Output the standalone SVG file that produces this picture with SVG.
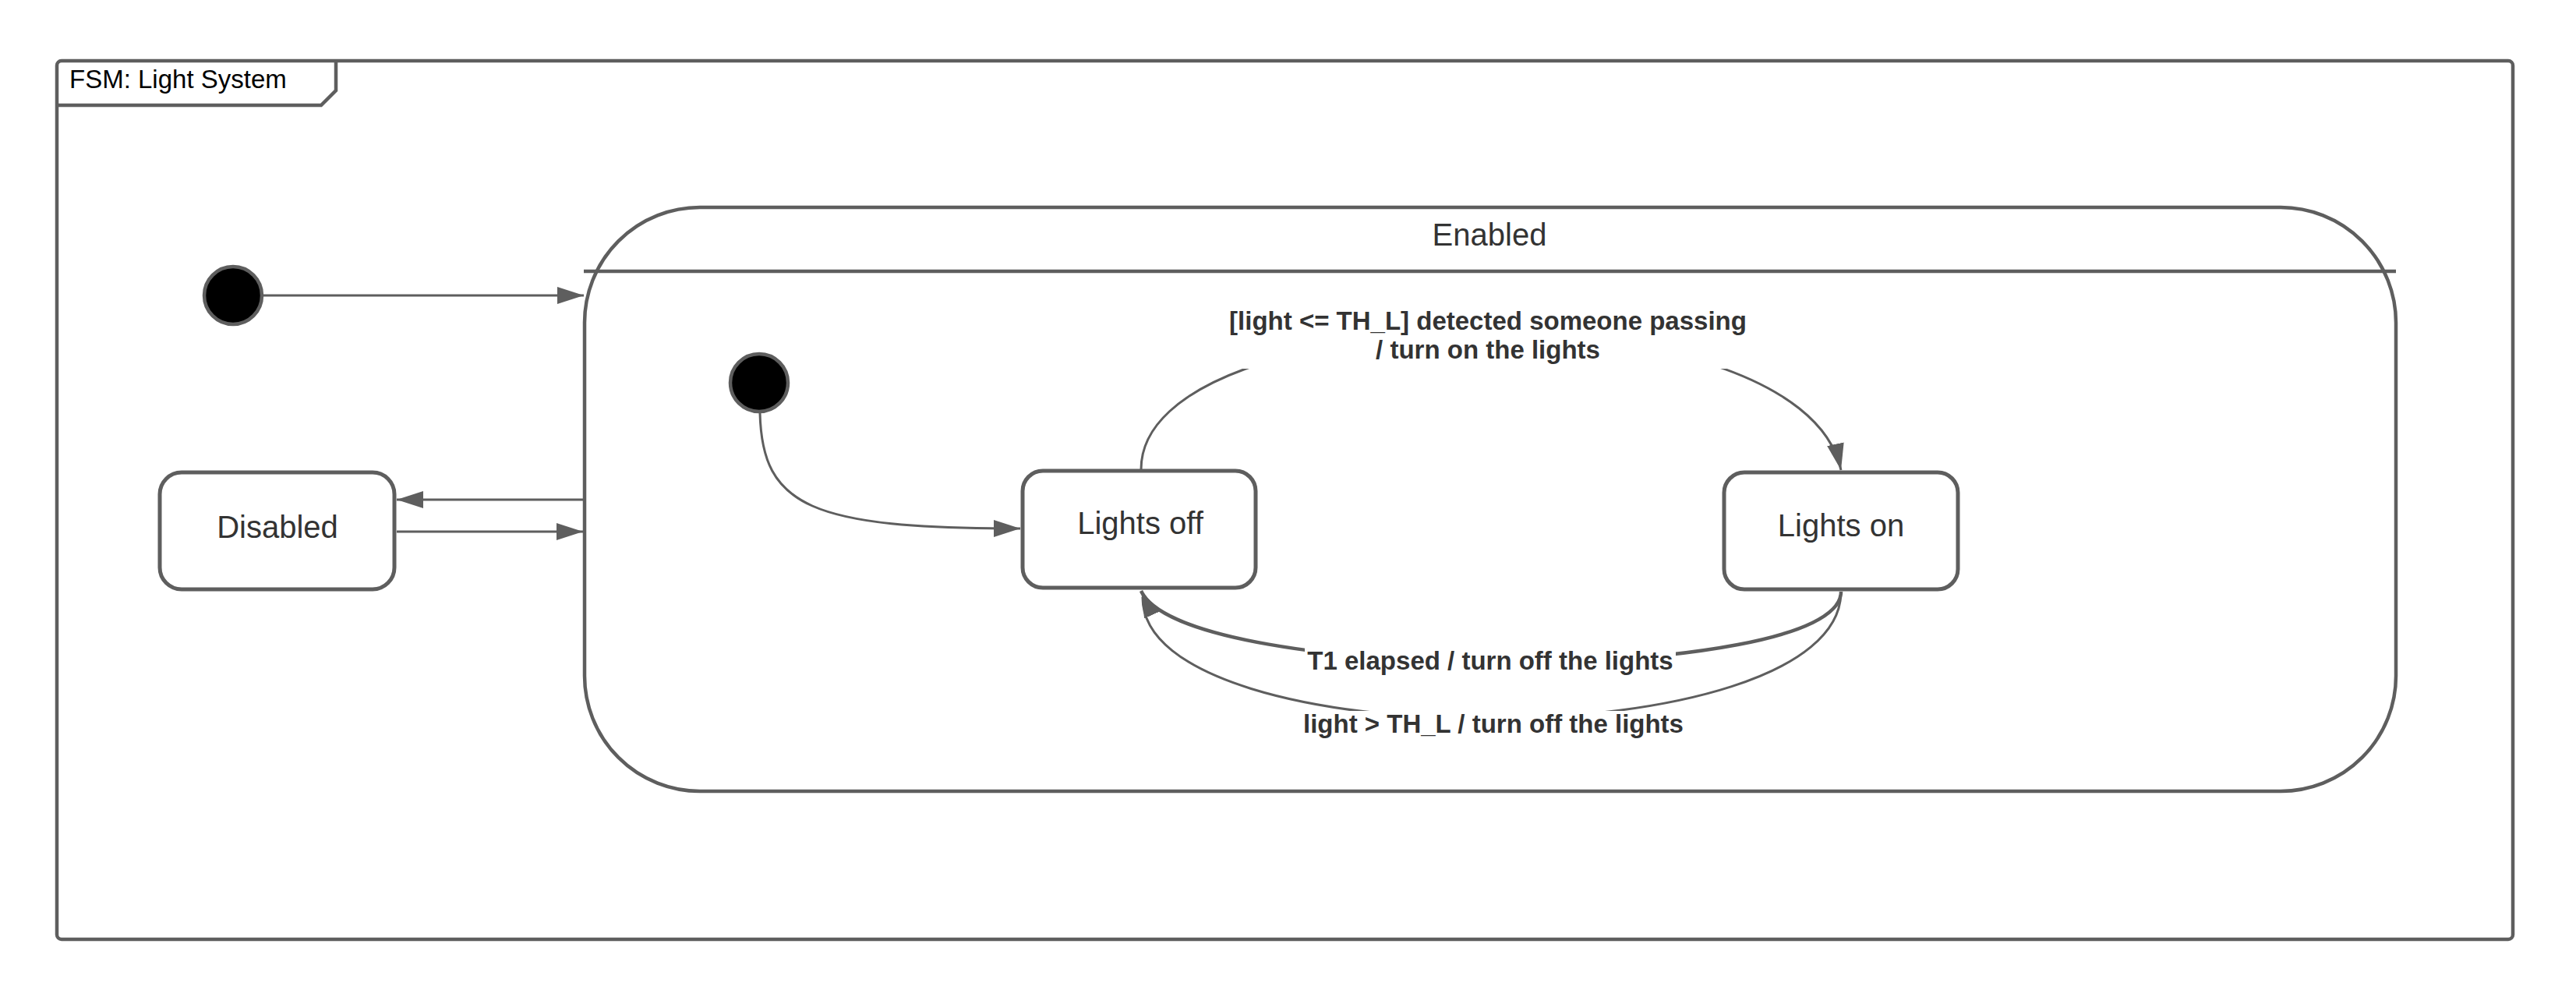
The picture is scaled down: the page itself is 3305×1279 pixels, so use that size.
<svg xmlns="http://www.w3.org/2000/svg" width="3305" height="1279" viewBox="0 0 3305 1279">
  <style>
    .frame { fill: none; stroke: #5e5e5e; stroke-width: 4.5; }
    .state { fill: #ffffff; stroke: #5e5e5e; stroke-width: 5; }
    .init { fill: #000000; stroke: #5e5e5e; stroke-width: 4.5; }
    .conn { fill: none; stroke: #5e5e5e; stroke-width: 3; }
    .label { font-family: "Liberation Sans", Arial, sans-serif; font-size: 40px; fill: #333333; text-anchor: middle; }
    .tlabel { font-family: "Liberation Sans", Arial, sans-serif; font-size: 33px; font-weight: bold; fill: #333333; text-anchor: middle; }
    .bg { fill: #ffffff; stroke: none; }
  </style>
  <defs>
    <marker id="arrow" markerUnits="userSpaceOnUse" markerWidth="34" markerHeight="22" refX="34" refY="11" orient="auto">
      <path d="M0,0 L34,11 L0,22 z" fill="#5e5e5e"/>
    </marker>
  </defs>
  <rect width="3305" height="1279" fill="#ffffff"/>

  <g id="frame">
    <rect class="frame" x="73" y="78" width="3151" height="1127" rx="6"/>
    <path class="frame" d="M73,135 L412,135 L431,116 L431,78"/>
    <text x="89" y="113" font-family="Liberation Sans, Arial, sans-serif" font-size="33" fill="#000000">FSM: Light System</text>
  </g>

  <g id="enabled">
    <rect class="frame" x="750" y="266" width="2324" height="749" rx="148" ry="148"/>
    <line class="frame" x1="749" y1="348" x2="3074" y2="348"/>
    <text class="label" x="1911" y="315">Enabled</text>
  </g>

  <g id="initial-top">
    <circle class="init" cx="299" cy="379" r="37"/>
  </g>

  <g id="disabled">
    <rect class="state" x="205" y="606" width="301" height="150" rx="28"/>
    <text class="label" x="356" y="690">Disabled</text>
  </g>

  <g id="initial-inner">
    <circle class="init" cx="974" cy="491" r="37"/>
  </g>

  <g id="lights-off">
    <rect class="state" x="1312" y="604" width="299" height="150" rx="26"/>
    <text class="label" x="1463" y="685">Lights off</text>
  </g>

  <g id="lights-on">
    <rect class="state" x="2212" y="606" width="300" height="150" rx="26"/>
    <text class="label" x="2362" y="688">Lights on</text>
  </g>

  <g id="connectors">
    <path class="conn" d="M338,379 L749,379" marker-end="url(#arrow)"/>
    <path class="conn" d="M748,641 L509,641" marker-end="url(#arrow)"/>
    <path class="conn" d="M509,682 L748,682" marker-end="url(#arrow)"/>
    <path class="conn" d="M975,530 C978,650 1040,678 1309,678" marker-end="url(#arrow)"/>
    <path class="conn" d="M1464,602 C1464,378 2310,360 2362,603" marker-end="url(#arrow)"/>
    <path class="conn" d="M2362,759 C2362,975 1464,975 1466,766"/>
    <path class="conn" style="stroke-width:4.5" d="M2362,759 C2362,880 1520,880 1464,758" marker-end="url(#arrow)"/>
  </g>

  <g id="labels">
    <rect class="bg" x="1570" y="392" width="680" height="81"/>
    <text class="tlabel" x="1909" y="423">[light &lt;= TH_L] detected someone passing</text>
    <text class="tlabel" x="1909" y="460">/ turn on the lights</text>
    <rect class="bg" x="1674" y="830" width="476" height="42"/>
    <text class="tlabel" x="1912" y="859">T1 elapsed / turn off the lights</text>
    <rect class="bg" x="1668" y="912" width="498" height="40"/>
    <text class="tlabel" x="1916" y="940">light &gt; TH_L / turn off the lights</text>
  </g>
</svg>
